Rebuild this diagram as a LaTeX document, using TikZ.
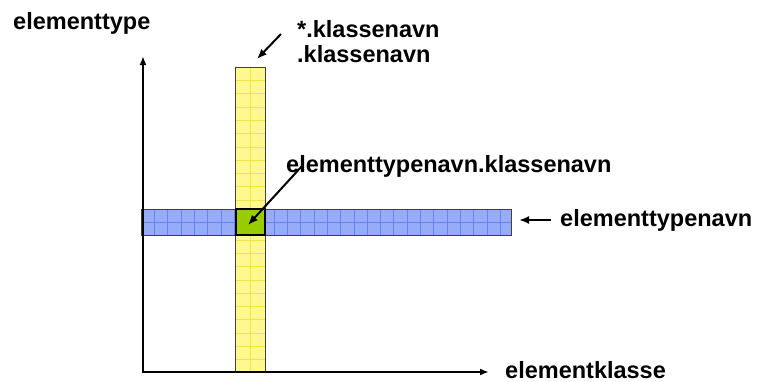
\documentclass[tikz,border=0pt]{standalone}
\usepackage{fontspec}
\setmainfont{Liberation Sans}
\usetikzlibrary{arrows.meta}
\definecolor{ylw}{RGB}{255,248,145}
\definecolor{ylwline}{RGB}{242,228,70}
\definecolor{blu}{RGB}{150,172,250}
\definecolor{bluline}{RGB}{105,130,240}
\definecolor{grn}{RGB}{153,204,0}
\begin{document}
\begin{tikzpicture}[x=1pt,y=-1pt,
  lbl/.style={inner sep=0pt, anchor=base west, font=\fontsize{23.5}{26}\selectfont\bfseries},
  axis/.style={line width=2.3pt, -{Latex[length=9pt,width=7pt]}},
  pointer/.style={line width=2pt, -{Latex[length=10pt,width=8pt]}},
  cellline/.style={line width=0.6pt}]
\useasboundingbox (0,0) rectangle (758,381);
% labels
\node[lbl] (ty) at (13,29) {elementtype};
\node[lbl] (k1) at (297,37) {*.klassenavn};
\node[lbl] (k2) at (297,62) {.klassenavn};
\node[lbl] (etk) at (286,172) {elementtypenavn.klassenavn};
\node[lbl] (etn) at (560,226) {elementtypenavn};
\node[lbl] (ek) at (505,378) {elementklasse};
% yellow column
\fill[ylw] (235,67) rectangle (265,371);
\foreach \i in {1,...,22} \draw[ylwline, cellline] (235,67+\i*13.3) -- (265,67+\i*13.3);
\draw[ylwline, cellline] (250,67) -- (250,371);
\draw[black!75, line width=0.9pt] (235,67) rectangle (265,371);
% blue row
\fill[blu] (141,209) rectangle (511,235);
\foreach \i in {1,...,27} \draw[bluline, cellline] (141+\i*13.3,209) -- (141+\i*13.3,235);
\draw[bluline, cellline] (141,222) -- (511,222);
\draw[black!75, line width=0.9pt] (141,209) rectangle (511,235);
% green cell
\node[draw=black, line width=1.3pt, fill=grn, minimum width=29pt, minimum height=26pt, inner sep=0pt] (cell) at (250.5,222) {};
% axes
\coordinate (o) at (143,372);
\coordinate (ytop) at (143,56);
\coordinate (xend) at (489,372);
\draw[axis] ([yshift=-1.1pt]o) -- (ytop);
\draw[axis] ([xshift=-1.1pt]o) -- (xend);
% pointers
\coordinate (kstart) at (281,34);
\coordinate (kend) at (257,59);
\draw[pointer] (kstart) -- (kend);
\coordinate (estart) at (302,166);
\coordinate (eend) at (248,225);
\draw[pointer] (estart) -- (eend);
\coordinate (nstart) at (551,220);
\coordinate (nend) at (519,220);
\draw[pointer] (nstart) -- (nend);
\end{tikzpicture}
\end{document}
